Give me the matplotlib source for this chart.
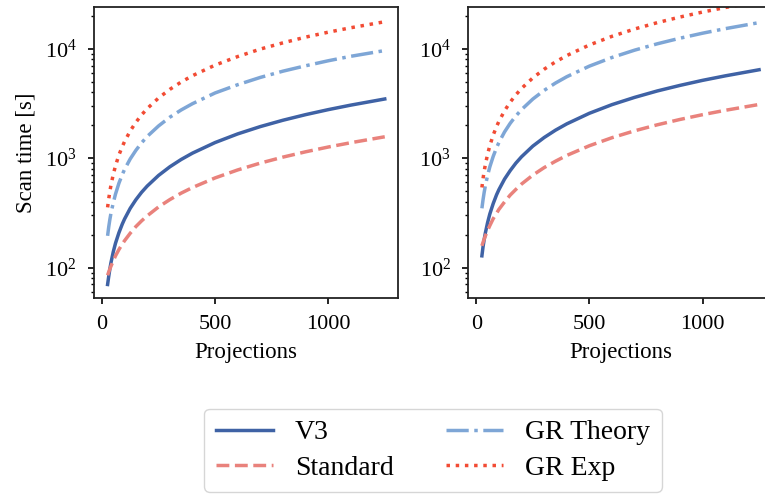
import matplotlib
matplotlib.use("Agg")
import matplotlib.pyplot as plt

plt.rcParams['font.family'] = ['Liberation Serif', 'DejaVu Serif']
plt.rcParams['mathtext.fontset'] = 'stix'

# projections
projections = [25, 30, 35, 40, 50, 60, 75, 90, 100, 125, 150, 175, 200, 250, 300, 350, 400,
               500, 600, 700, 800, 900, 1000, 1100, 1250]

# left panel, scan time [s]
left_v3 = [70, 83, 97, 111, 139, 167, 208, 250, 278, 348, 417, 487, 556, 695, 834, 973, 1112,
           1390, 1668, 1946, 2224, 2502, 2780, 3058, 3480]
left_standard = [85, 91, 97, 103, 115, 128, 146, 164, 176, 206, 237, 267, 297, 358, 418, 479, 539,
                 660, 781, 902, 1023, 1144, 1265, 1386, 1570]
left_gr_theory = [195, 235, 275, 315, 390, 470, 590, 710, 790, 985, 1180, 1380, 1580, 1970, 2370, 2760, 3150,
                  3950, 4700, 5480, 6250, 7000, 7780, 8550, 9650]
left_gr_exp = [355, 425, 497, 568, 710, 852, 1070, 1278, 1420, 1775, 2130, 2485, 2840, 3550, 4260, 4970, 5680,
               7100, 8500, 9950, 11350, 12800, 14200, 15600, 17700]

# right panel, scan time [s]
right_v3 = [128, 155, 180, 206, 257, 309, 385, 464, 515, 644, 770, 901, 1030, 1290, 1545, 1803, 2060,
            2575, 3090, 3600, 4120, 4630, 5150, 5660, 6440]
right_standard = [158, 170, 182, 194, 218, 242, 280, 314, 340, 398, 460, 518, 580, 700, 820, 938, 1060,
                  1300, 1540, 1780, 2020, 2260, 2500, 2740, 3100]
right_gr_theory = [348, 417, 487, 556, 695, 834, 1040, 1251, 1390, 1738, 2085, 2433, 2780, 3475, 4170, 4865, 5560,
                   6950, 8340, 9730, 11120, 12510, 13900, 15290, 17375]
right_gr_exp = [540, 651, 760, 868, 1085, 1302, 1630, 1953, 2170, 2713, 3255, 3798, 4340, 5425, 6510, 7595, 8680,
                10850, 13020, 15190, 17360, 19530, 21700, 23870, 27125]

labels = ['V3', 'Standard', 'GR Theory', 'GR Exp']
colors = ['#3f62a5', '#e9827c', '#7ea6d6', '#f24b34']
styles = ['-', '--', '-.', ':']

fig = plt.figure(figsize=(7.65, 4.95), dpi=100)
ax1 = fig.add_axes([0.1229, 0.3986, 0.3978, 0.5867])
ax2 = fig.add_axes([0.6122, 0.3986, 0.3978, 0.5867])

panels = [
    (ax1, [left_v3, left_standard, left_gr_theory, left_gr_exp]),
    (ax2, [right_v3, right_standard, right_gr_theory, right_gr_exp]),
]

for ax, series in panels:
    for vals, lab, col, ls in zip(series, labels, colors, styles):
        ax.plot(projections, vals, ls, color=col, lw=2.5, label=lab)
    ax.set_yscale('log')
    ax.set_ylim(53, 24000)
    ax.set_xlim(-35, 1310)
    ax.set_xlabel('Projections', fontsize=16.5, labelpad=6)
    ax.tick_params(labelsize=16, width=1.2, length=4.5, pad=8)
    ax.tick_params(which='minor', width=1, length=2.5)
    for sp in ax.spines.values():
        sp.set_linewidth(1.3)
        sp.set_color('#222222')

ax1.set_ylabel('Scan time [s]', fontsize=16.5, labelpad=6)

handles, labs = ax1.get_legend_handles_labels()
fig.legend(handles, labs, ncol=2, loc='upper center', bbox_to_anchor=(0.566, 0.174),
           borderaxespad=0, fontsize=20, labelspacing=0.35, columnspacing=1.9, handlelength=2.05,
           fancybox=True, edgecolor='#cccccc')

fig.savefig('out.png', dpi=100)
